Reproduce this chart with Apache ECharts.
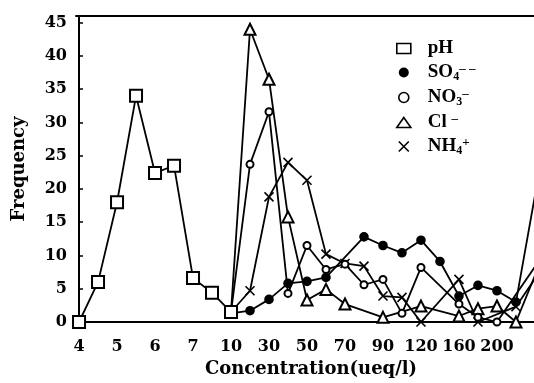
<!DOCTYPE html>
<html><head><meta charset="utf-8">
<script src="https://cdn.jsdelivr.net/npm/echarts@6/dist/echarts.min.js"></script>
<style>html,body{margin:0;padding:0;background:#fff}#c{width:534px;height:383px}</style>
</head><body><div id="c"></div>
<script>
// x positions: pH 4.0..8.0 in 0.5 steps (idx 0-8), then concentration 10..240 ueq/l (idx 8-24)
const categories = ['4','4.5','5','5.5','6','6.5','7','7.5','10','20','30','40','50','60','70','80','90','105','120','140','160','180','200','220','240'];
const tickPositions = [0,2,4,6,8,10,12,14,16,18,20,22];
const tickLabels = ['4','5','6','7','10','30','50','70','90','120','160','200'];
const yTicks = [0,5,10,15,20,25,30,35,40,45];

const pH  = [0,6,18,34,22.4,23.5,6.6,4.4,1.5,null,null,null,null,null,null,null,null,null,null,null,null,null,null,null,null];
const SO4 = [null,null,null,null,null,null,null,null,1.3,1.7,3.4,5.8,6.1,6.7,null,12.8,11.5,10.4,12.3,9.1,3.9,5.5,4.7,3.0,19];
const NO3 = [null,null,null,null,null,null,null,null,1.5,23.7,31.6,4.3,11.5,7.9,8.7,5.6,6.4,1.3,8.2,null,2.7,0.7,0,null,8.3];
const Cl  = [null,null,null,null,null,null,null,null,1.5,44,36.5,15.8,3.3,4.9,2.7,null,0.7,null,2.4,null,0.9,2,2.4,0,7];
const NH4 = [null,null,null,null,null,null,null,null,1.5,4.7,18.8,24,21.3,10.2,8.8,8.4,3.9,3.7,0,null,6.4,0,null,2.3,6.5];

const seriesNames = ['pH','SO4','NO3','Cl','NH4'];
const seriesValues = [pH, SO4, NO3, Cl, NH4];
const legendText = {
  pH: '{b|pH}',
  SO4: '{b|SO}{s|4}{p|‒ ‒}',
  NO3: '{b|NO}{s|3}{p|‒}',
  Cl: '{b|Cl }{p|‒}',
  NH4: '{b|NH}{s|4}{p|+}'
};

const X_PATH = 'path://M0,0L10,10M10,0L0,10';
const symbols = {
  pH:  {symbol:'emptyRect', size:12},
  SO4: {symbol:'circle', size:8},
  NO3: {symbol:'emptyCircle', size:7},
  Cl:  {symbol:'emptyTriangle', size:11},
  NH4: {symbol:X_PATH, size:9}
};
const legendIcons = {
  pH:  {icon:'rect', itemStyle:{color:'#fff', borderColor:'#000', borderWidth:1.6}},
  SO4: {icon:'circle', itemStyle:{color:'#000', borderColor:'#000', borderWidth:0}},
  NO3: {icon:'circle', itemStyle:{color:'#fff', borderColor:'#000', borderWidth:1.6}},
  Cl:  {icon:'triangle', itemStyle:{color:'#fff', borderColor:'#000', borderWidth:1.6}},
  NH4: {icon:X_PATH, itemStyle:{color:'none', borderColor:'#000', borderWidth:1.6}}
};

const chart = echarts.init(document.getElementById('c'), null, {renderer:'canvas'});
const axisFont = {fontFamily:'DejaVu Serif', fontWeight:'bold', fontSize:16, color:'#000'};

const series = seriesNames.map((n, k) => ({
  name: n,
  type: 'line',
  data: seriesValues[k].map((v, i) => v === null ? null : [i, v]).filter(d => d),
  symbol: symbols[n].symbol,
  symbolSize: symbols[n].size,
  showAllSymbol: true,
  clip: true,
  lineStyle: {color:'#000', width:1.8},
  itemStyle: {color:'#000', borderColor:'#000', borderWidth:1.6},
  emphasis: {disabled:true},
  z: 10 - k
}));

chart.setOption({
  animation: false,
  backgroundColor: '#fff',
  grid: {left:76, right:0, top:16, bottom:61},
  legend: {
    orient: 'vertical',
    left: 396, top: 39, padding: 0,
    itemWidth: 14, itemHeight: 10, itemGap: 4,
    selectedMode: false,
    data: seriesNames.map(n => ({name:n, icon:legendIcons[n].icon, itemStyle:legendIcons[n].itemStyle})),
    formatter: n => legendText[n],
    textStyle: {
      padding: [0,0,0,12],
      rich: {
        b: {fontFamily:'Liberation Serif', fontWeight:'bold', fontSize:19, lineHeight:21, color:'#000'},
        s: {fontFamily:'Liberation Serif', fontWeight:'bold', fontSize:12, lineHeight:11, verticalAlign:'bottom', color:'#000'},
        p: {fontFamily:'Liberation Serif', fontWeight:'bold', fontSize:13, lineHeight:13, verticalAlign:'top', color:'#000'}
      }
    }
  },
  xAxis: [{
    type: 'value', min: -0.16, max: 23.95,
    name: 'Concentration(ueq/l)', nameLocation: 'middle', nameGap: 37,
    nameTextStyle: {fontFamily:'DejaVu Serif', fontWeight:'bold', fontSize:18, color:'#000', padding:[0,0,0,12]},
    axisLine: {lineStyle:{color:'#000', width:2}},
    axisTick: {show:false},
    splitLine: {show:false},
    axisLabel: Object.assign({customValues: tickPositions, margin: 17,
      formatter: v => { const j = tickPositions.indexOf(Math.round(v)); return j < 0 ? '' : tickLabels[j]; }}, axisFont)
  }, {
    type: 'value', position: 'top', min: -0.16, max: 23.95,
    axisLine: {show:true, lineStyle:{color:'#000', width:2}},
    axisTick: {show:false}, axisLabel: {show:false}, splitLine: {show:false}
  }],
  yAxis: {
    type: 'value', min: 0, max: 46, interval: 5,
    name: 'Frequency', nameLocation: 'middle', nameGap: 48,
    nameTextStyle: {fontFamily:'DejaVu Serif', fontWeight:'bold', fontSize:18, color:'#000'},
    axisLine: {show:true, lineStyle:{color:'#000', width:2}},
    axisTick: {show:true, inside:true, length:4, customValues: yTicks, lineStyle:{color:'#000', width:1.5}},
    splitLine: {show:false},
    axisLabel: Object.assign({customValues: yTicks, margin: 9}, axisFont)
  },
  series: series
});
</script>
</body></html>
